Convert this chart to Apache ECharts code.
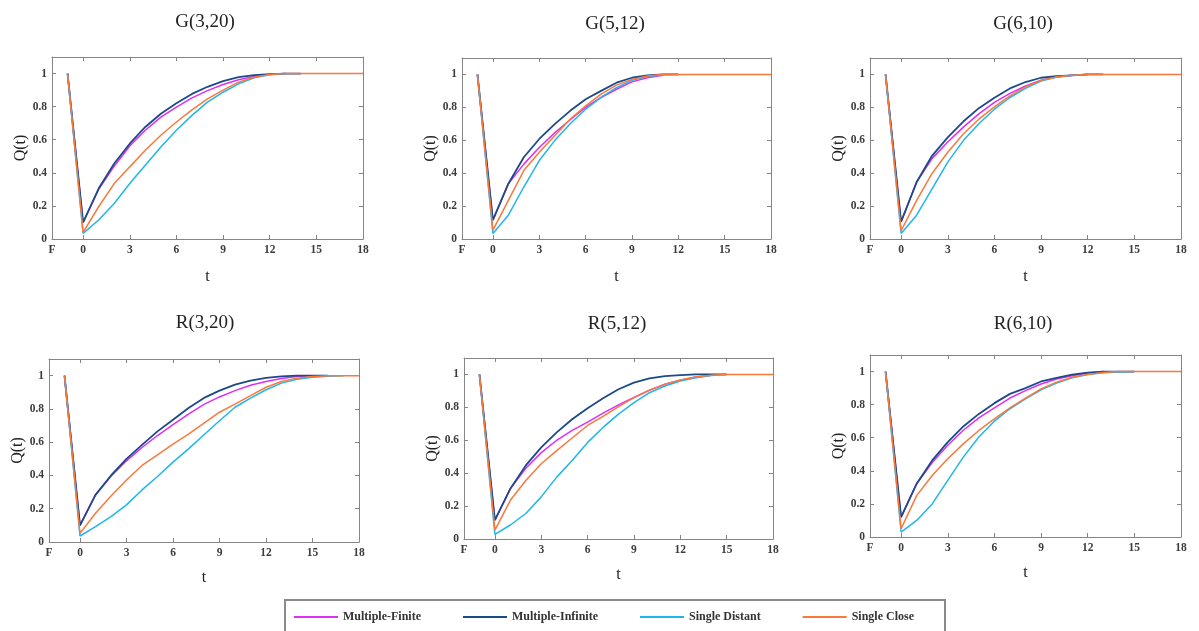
<!DOCTYPE html>
<html>
<head>
<meta charset="utf-8">
<script src="https://cdn.jsdelivr.net/npm/echarts@6/dist/echarts.min.js"></script>
<style>
  html, body { margin: 0; padding: 0; background: #fff; }
  #chart { width: 1199px; height: 631px; }
</style>
</head>
<body>
<div id="chart"></div>
<script>
// Q(t) per period; the first value is the state at F (t = -1), then t = 0, 1, 2, ...
const panelTitles = ['G(3,20)', 'G(5,12)', 'G(6,10)', 'R(3,20)', 'R(5,12)', 'R(6,10)'];
const seriesNames = ['Multiple-Finite', 'Multiple-Infinite', 'Single Distant', 'Single Close'];
const seriesColors = ['#e02cf5', '#1b4a88', '#1fb6ec', '#f8793c'];
const xTickValues = [0, 3, 6, 9, 12, 15, 18];
const xLabelValues = [-2, 0, 3, 6, 9, 12, 15, 18];
const yTickValues = [0, 0.2, 0.4, 0.6, 0.8, 1];

// G(3,20)
const g320Finite   = [1, 0.10, 0.30, 0.44, 0.562, 0.657, 0.737, 0.797, 0.853, 0.897, 0.934, 0.962, 0.982, 0.995, 1];
const g320Infinite = [1, 0.10, 0.305, 0.456, 0.576, 0.677, 0.757, 0.82, 0.877, 0.92, 0.954, 0.978, 0.99, 0.997, 1, 1];
const g320Distant  = [1, 0.034, 0.115, 0.215, 0.335, 0.446, 0.556, 0.657, 0.747, 0.827, 0.887, 0.938, 0.974, 0.993, 1];
const g320Close    = [1, 0.04, 0.195, 0.335, 0.436, 0.536, 0.627, 0.707, 0.78, 0.847, 0.90, 0.948, 0.978, 0.994, 1, 1, 1, 1, 1, 1];

// G(5,12)
const g512Finite   = [1, 0.115, 0.336, 0.455, 0.556, 0.645, 0.725, 0.80, 0.86, 0.91, 0.955, 0.98, 0.995];
const g512Infinite = [1, 0.115, 0.336, 0.497, 0.608, 0.698, 0.779, 0.849, 0.90, 0.95, 0.98, 0.995, 1, 1];
const g512Distant  = [1, 0.034, 0.145, 0.316, 0.477, 0.598, 0.70, 0.789, 0.86, 0.92, 0.964, 0.988, 0.998, 1];
const g512Close    = [1, 0.054, 0.235, 0.416, 0.527, 0.628, 0.728, 0.809, 0.88, 0.935, 0.97, 0.99, 1, 1, 1, 1, 1, 1, 1, 1];

// G(6,10)
const g610Finite   = [1, 0.105, 0.346, 0.49, 0.59, 0.68, 0.76, 0.83, 0.885, 0.93, 0.965, 0.985, 0.995, 1];
const g610Infinite = [1, 0.105, 0.346, 0.507, 0.618, 0.714, 0.795, 0.859, 0.915, 0.954, 0.98, 0.99, 0.995, 1, 1];
const g610Distant  = [1, 0.034, 0.145, 0.306, 0.467, 0.598, 0.70, 0.789, 0.86, 0.915, 0.96, 0.985, 0.995, 1];
const g610Close    = [1, 0.05, 0.235, 0.40, 0.527, 0.638, 0.728, 0.803, 0.87, 0.925, 0.964, 0.985, 0.995, 1, 1, 1, 1, 1, 1, 1];

// R(3,20)
const r320Finite   = [1, 0.10, 0.283, 0.395, 0.488, 0.568, 0.64, 0.705, 0.769, 0.827, 0.872, 0.91, 0.942, 0.965, 0.983, 0.995, 1];
const r320Infinite = [1, 0.10, 0.283, 0.40, 0.50, 0.584, 0.665, 0.735, 0.805, 0.866, 0.91, 0.946, 0.97, 0.986, 0.995, 1, 1, 1];
const r320Distant  = [1, 0.036, 0.092, 0.153, 0.223, 0.313, 0.394, 0.48, 0.56, 0.645, 0.729, 0.81, 0.865, 0.915, 0.955, 0.978, 0.99, 0.997, 1];
const r320Close    = [1, 0.052, 0.173, 0.277, 0.373, 0.46, 0.524, 0.588, 0.648, 0.715, 0.78, 0.829, 0.88, 0.93, 0.965, 0.985, 0.995, 1, 1, 1];

// R(5,12)
const r512Finite   = [1, 0.115, 0.306, 0.43, 0.525, 0.60, 0.66, 0.71, 0.765, 0.815, 0.86, 0.905, 0.94, 0.965, 0.985, 0.995];
const r512Infinite = [1, 0.115, 0.306, 0.447, 0.557, 0.648, 0.728, 0.795, 0.855, 0.91, 0.95, 0.976, 0.99, 0.996, 1, 1, 1];
const r512Distant  = [1, 0.028, 0.085, 0.155, 0.256, 0.376, 0.477, 0.587, 0.678, 0.759, 0.829, 0.889, 0.93, 0.96, 0.98, 0.993, 1];
const r512Close    = [1, 0.054, 0.235, 0.356, 0.457, 0.537, 0.614, 0.69, 0.745, 0.805, 0.859, 0.903, 0.94, 0.966, 0.985, 0.995, 1, 1, 1, 1];

// R(6,10)
const r610Finite   = [1, 0.12, 0.322, 0.45, 0.555, 0.645, 0.72, 0.78, 0.84, 0.885, 0.925, 0.955, 0.975, 0.99, 1];
const r610Infinite = [1, 0.12, 0.322, 0.463, 0.573, 0.668, 0.744, 0.809, 0.865, 0.90, 0.94, 0.962, 0.982, 0.994, 1, 1, 1];
const r610Distant  = [1, 0.03, 0.10, 0.20, 0.342, 0.483, 0.604, 0.70, 0.775, 0.835, 0.889, 0.93, 0.962, 0.982, 0.992, 0.997, 1];
const r610Close    = [1, 0.05, 0.25, 0.372, 0.473, 0.563, 0.644, 0.714, 0.78, 0.839, 0.895, 0.936, 0.966, 0.982, 0.994, 1, 1, 1, 1, 1];

const panelSeries = [
  [g320Finite, g320Infinite, g320Distant, g320Close],
  [g512Finite, g512Infinite, g512Distant, g512Close],
  [g610Finite, g610Infinite, g610Distant, g610Close],
  [r320Finite, r320Infinite, r320Distant, r320Close],
  [r512Finite, r512Infinite, r512Distant, r512Close],
  [r610Finite, r610Infinite, r610Distant, r610Close]
];

// plot rectangles for the 2 x 3 panel layout
const panelBoxes = [
  { left: 52,  top: 57,  width: 311, height: 182, titleX: 205, titleY: 22,  nameX: 30, nameQ: 17 },
  { left: 462, top: 58,  width: 309, height: 181, titleX: 615, titleY: 24,  nameX: 30, nameQ: 15 },
  { left: 870, top: 58,  width: 311, height: 181, titleX: 1023, titleY: 24, nameX: 30, nameQ: 14 },
  { left: 49,  top: 359, width: 310, height: 183, titleX: 205, titleY: 323, nameX: 28, nameQ: 17 },
  { left: 464, top: 358, width: 309, height: 181, titleX: 617, titleY: 324, nameX: 28, nameQ: 18 },
  { left: 870, top: 355, width: 311, height: 182, titleX: 1023, titleY: 324, nameX: 28, nameQ: 14 }
];

const serifFont = '"Liberation Serif", "DejaVu Serif", serif';
const boxColor = '#858585';
const labelColor = '#3c3c3c';

const grids = [], xAxes = [], yAxes = [], series = [], graphics = [];

panelBoxes.forEach((b, p) => {
  grids.push({ left: b.left, top: b.top, width: b.width, height: b.height, containLabel: false });
  const axisLine = { show: true, onZero: false, lineStyle: { color: boxColor, width: 1 } };
  const tickX = { show: true, inside: true, length: 4, customValues: xTickValues, lineStyle: { color: boxColor } };
  const tickY = { show: true, inside: true, length: 4, customValues: yTickValues, lineStyle: { color: boxColor } };
  // bottom axis with labels
  xAxes.push({
    gridIndex: p, type: 'value', position: 'bottom', min: -2, max: 18,
    axisLine, axisTick: tickX, splitLine: { show: false },
    axisLabel: {
      customValues: xLabelValues, margin: 5, color: labelColor,
      fontFamily: serifFont, fontWeight: 'bold', fontSize: 11.5,
      formatter: v => (v === -2 ? 'F' : String(v))
    },
    name: 't', nameLocation: 'middle', nameGap: b.nameX,
    nameTextStyle: { fontFamily: serifFont, fontSize: 16, color: '#222' }
  });
  // top mirror
  xAxes.push({
    gridIndex: p, type: 'value', position: 'top', min: -2, max: 18,
    axisLine, axisTick: tickX, axisLabel: { show: false }, splitLine: { show: false }
  });
  // left axis with labels
  yAxes.push({
    gridIndex: p, type: 'value', position: 'left', min: 0, max: 1.1,
    axisLine, axisTick: tickY, splitLine: { show: false },
    axisLabel: {
      customValues: yTickValues, margin: 5, color: labelColor,
      fontFamily: serifFont, fontWeight: 'bold', fontSize: 11.5,
      formatter: v => String(Math.round(v * 10) / 10)
    },
    name: 'Q(t)', nameLocation: 'middle', nameGap: b.nameQ, nameRotate: 90,
    nameTextStyle: { fontFamily: serifFont, fontSize: 16, color: '#222' }
  });
  // right mirror
  yAxes.push({
    gridIndex: p, type: 'value', position: 'right', min: 0, max: 1.1,
    axisLine, axisTick: tickY, axisLabel: { show: false }, splitLine: { show: false }
  });

  panelSeries[p].forEach((vals, s) => {
    series.push({
      type: 'line', name: seriesNames[s],
      xAxisIndex: 2 * p, yAxisIndex: 2 * p,
      data: vals.map((v, k) => [k - 1, v]),
      showSymbol: false, symbol: 'none', smooth: false,
      lineStyle: { color: seriesColors[s], width: s === 1 ? 1.8 : 1.5 },
      itemStyle: { color: seriesColors[s] },
      z: 2 + s, animation: false
    });
  });

  graphics.push({
    type: 'text', x: b.titleX, y: b.titleY,
    style: { text: panelTitles[p], fontFamily: serifFont, fontSize: 19, fill: '#222', align: 'center', verticalAlign: 'middle' }
  });
});

// frame round the legend
graphics.push({
  type: 'rect', shape: { x: 285, y: 600, width: 660, height: 40 },
  style: { fill: 'none', stroke: '#8a8a8a', lineWidth: 2 }, z: 0
});

const chart = echarts.init(document.getElementById('chart'), null, { renderer: 'canvas' });
chart.setOption({
  animation: false,
  backgroundColor: '#fff',
  grid: grids,
  xAxis: xAxes,
  yAxis: yAxes,
  series: series,
  graphic: graphics,
  legend: {
    data: seriesNames, left: 294, top: 611, padding: 0, icon: 'rect',
    itemWidth: 44, itemHeight: 2, itemGap: 42,
    textStyle: { fontFamily: serifFont, fontSize: 12, fontWeight: 'bold', color: '#333' }
  }
});
</script>
</body>
</html>
